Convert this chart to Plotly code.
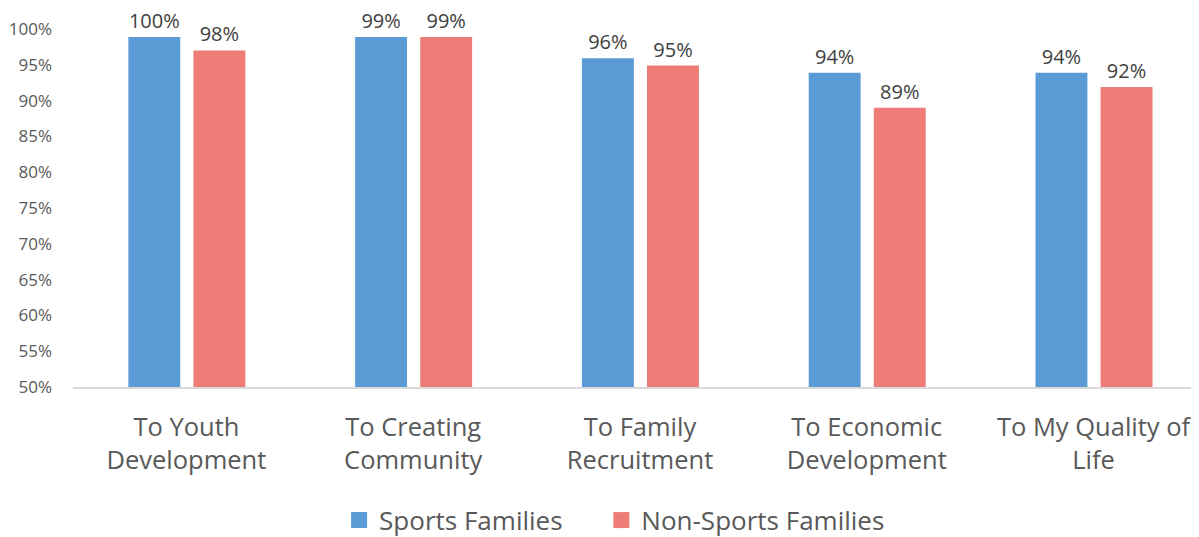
import plotly.graph_objects as go

categories = ["To Youth<br>Development", "To Creating<br>Community", "To Family<br>Recruitment",
              "To Economic<br>Development", "To My Quality of<br>Life"]
sports = [98.9, 98.9, 95.9, 93.9, 93.9]
non_sports = [97.0, 98.9, 94.9, 89.0, 91.9]
sports_labels = ["100%", "99%", "96%", "94%", "94%"]
non_sports_labels = ["98%", "99%", "95%", "89%", "92%"]
series_names = ["Sports Families", "Non-Sports Families"]
y_ticks = list(range(50, 101, 5))

BLUE = "#5B9BD5"
RED = "#ED7D76"
FONT = "Open Sans"
NBSP = "\u00a0"

fig = go.Figure()
fig.add_trace(go.Bar(x=categories, y=sports, text=sports_labels, textposition="outside",
                     width=0.229, offset=-0.256, marker=dict(color=BLUE, line=dict(width=0)),
                     textfont=dict(size=20, color="#404040", family=FONT), constraintext="none",
                     cliponaxis=False, showlegend=False, name=series_names[0]))
fig.add_trace(go.Bar(x=categories, y=non_sports, text=non_sports_labels, textposition="outside",
                     width=0.229, offset=0.031, marker=dict(color=RED, line=dict(width=0)),
                     textfont=dict(size=20, color="#404040", family=FONT), constraintext="none",
                     cliponaxis=False, showlegend=False, name=series_names[1]))
# legend entries with larger square markers
fig.add_trace(go.Scatter(x=[categories[0]], y=[0], mode="markers", name=series_names[0] + NBSP * 5,
                         marker=dict(symbol="square", size=20, color=BLUE), hoverinfo="skip"))
fig.add_trace(go.Scatter(x=[categories[0]], y=[0], mode="markers", name=series_names[1],
                         marker=dict(symbol="square", size=20, color=RED), hoverinfo="skip"))

fig.update_layout(
    width=1191, height=529, autosize=False,
    margin=dict(l=65, r=0, t=21, b=150, autoexpand=False),
    paper_bgcolor="white", plot_bgcolor="white",
    font=dict(family=FONT, color="#595959"),
    barmode="overlay",
    legend=dict(orientation="h", x=0.481, xanchor="center",
                y=-0.372, yanchor="middle",
                font=dict(size=26, color="#595959", family=FONT),
                itemwidth=30),
    xaxis=dict(type="category", range=[-0.5, 4.465], showgrid=False, showline=True,
               linecolor="#D9D9D9", linewidth=2, ticks="", tickangle=0,
               tickfont=dict(size=25.5, color="#595959", family=FONT), ticklabelstandoff=16),
    yaxis=dict(range=[50, 100], tickvals=y_ticks, ticktext=[f"{v}%" for v in y_ticks],
               showgrid=False, zeroline=False, showline=False, ticks="",
               tickfont=dict(size=17, color="#595959", family=FONT), ticklabelstandoff=20),
)

fig.write_html("out.html")
